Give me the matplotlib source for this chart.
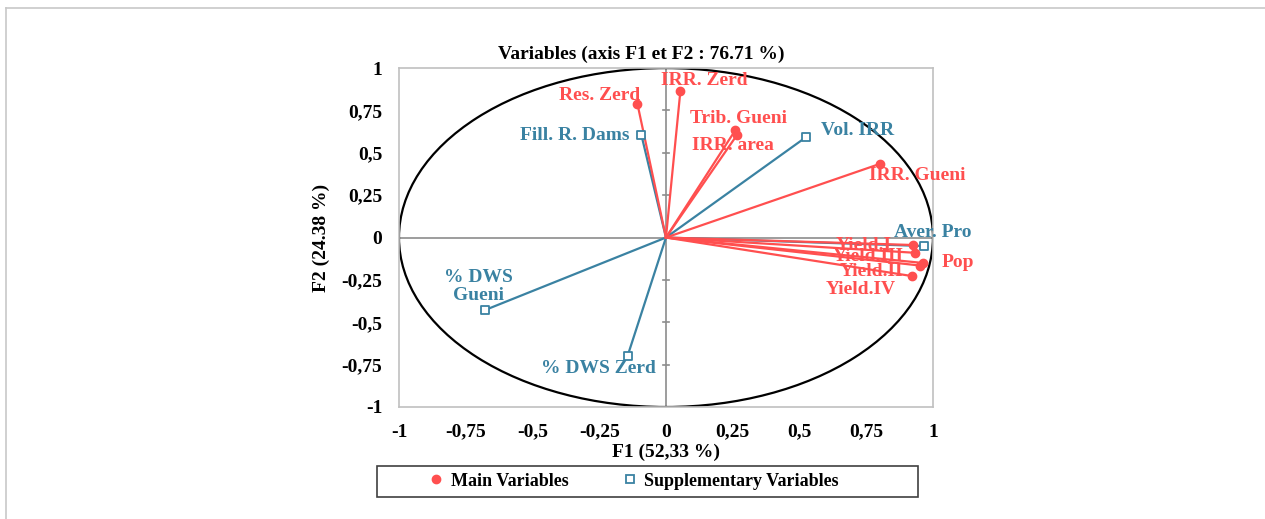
import numpy as np
import matplotlib
matplotlib.use("Agg")
import matplotlib.pyplot as plt
from matplotlib.patches import Ellipse, Rectangle
from matplotlib.lines import Line2D

plt.rcParams["font.family"] = ["Liberation Serif", "DejaVu Serif"]
plt.rcParams["font.weight"] = "bold"

RED = "#ff4f4f"
BLUE = "#3a82a2"
FS = 14

# ── Data (loadings) ───────────────────────────────────────────────────────────
main_names = ["Res. Zerd", "IRR. Zerd", "Trib. Gueni", "IRR. area", "IRR. Gueni",
              "Yield.I", "Yield.III", "Yield.II", "Pop", "Yield.IV"]
main_x = [-0.107, 0.054, 0.26, 0.266, 0.80, 0.925, 0.933, 0.95, 0.963, 0.92]
main_y = [0.79, 0.864, 0.634, 0.605, 0.434, -0.044, -0.09, -0.165, -0.15, -0.227]

supp_names = ["Fill. R. Dams", "Vol. IRR", "Aver. Pro", "% DWS\nGueni", "% DWS Zerd"]
supp_x = [-0.092, 0.525, 0.966, -0.678, -0.144]
supp_y = [0.605, 0.593, -0.05, -0.428, -0.70]

ticks = [-1, -0.75, -0.5, -0.25, 0, 0.25, 0.5, 0.75, 1]
tick_labels = ["-1", "-0,75", "-0,5", "-0,25", "0", "0,25", "0,5", "0,75", "1"]

# label offsets in data units (dx, dy, ha)
main_lab = {
    "Res. Zerd": (-0.14, 0.05, "center"),
    "IRR. Zerd": (0.09, 0.06, "center"),
    "Trib. Gueni": (-0.17, 0.07, "left"),
    "IRR. area": (-0.17, -0.06, "left"),
    "IRR. Gueni": (-0.04, -0.07, "left"),
    "Yield.I": (-0.29, 0.0, "left"),
    "Yield.III": (-0.31, -0.02, "left"),
    "Yield.II": (-0.3, -0.035, "left"),
    "Pop": (0.07, 0.0, "left"),
    "Yield.IV": (-0.32, -0.08, "left"),
}
supp_lab = {
    "Fill. R. Dams": (-0.045, 0.0, "right"),
    "Vol. IRR": (0.055, 0.04, "left"),
    "Aver. Pro": (-0.11, 0.08, "left"),
    "% DWS\nGueni": (-0.025, 0.14, "center"),
    "% DWS Zerd": (-0.11, -0.075, "center"),
}

fig = plt.figure(figsize=(12.65, 5.19), dpi=100)
# page frame: only the top and left edges are visible
fig.lines.append(Line2D([6 / 1265, 1.0], [1 - 8 / 519, 1 - 8 / 519],
                        transform=fig.transFigure, color="#c8c8c8", linewidth=1.2))
fig.lines.append(Line2D([6 / 1265, 6 / 1265], [0.0, 1 - 8 / 519],
                        transform=fig.transFigure, color="#c8c8c8", linewidth=1.2))

ax = fig.add_axes([0.3154, 0.2158, 0.4221, 0.653])
ax.set_xlim(-1, 1)
ax.set_ylim(-1, 1)

ax.axhline(0, color="#8c8c8c", linewidth=1.2, zorder=1)
ax.axvline(0, color="#8c8c8c", linewidth=1.2, zorder=1)
for t in ticks:
    if t != 0:
        ax.plot([-0.012, 0.012], [t, t], color="#8c8c8c", linewidth=1.2, zorder=1)

ax.add_patch(Ellipse((0, 0), 2, 2, fill=False, edgecolor="black", linewidth=1.6, zorder=2))

for x, y in zip(supp_x, supp_y):
    ax.plot([0, x], [0, y], color=BLUE, linewidth=1.6, zorder=3)
ax.scatter(supp_x, supp_y, marker="s", s=26, facecolor="white", edgecolor=BLUE,
           linewidth=1.3, zorder=5)

for x, y in zip(main_x, main_y):
    ax.plot([0, x], [0, y], color=RED, linewidth=1.6, zorder=4)
ax.scatter(main_x, main_y, marker="o", s=36, color=RED, zorder=6)

for name, x, y in zip(main_names, main_x, main_y):
    dx, dy, ha = main_lab[name]
    ax.text(x + dx, y + dy, name, color=RED, fontsize=FS, fontweight="bold",
            ha=ha, va="center", zorder=7)
for name, x, y in zip(supp_names, supp_x, supp_y):
    dx, dy, ha = supp_lab[name]
    ax.text(x + dx, y + dy, name, color=BLUE, fontsize=FS, fontweight="bold",
            ha=ha, va="center", zorder=7, linespacing=1.05)

ax.set_xticks(ticks)
ax.set_xticklabels(tick_labels)
ax.set_yticks(ticks)
ax.set_yticklabels(tick_labels)
ax.tick_params(length=0, labelsize=FS, pad=12)
for lab in ax.get_xticklabels() + ax.get_yticklabels():
    lab.set_fontweight("bold")
for s in ax.spines.values():
    s.set_color("#c0c0c0")
    s.set_linewidth(1.2)

ax.set_xlabel("F1 (52,33 %)", fontsize=FS, fontweight="bold", labelpad=2)
ax.set_ylabel("F2 (24.38 %)", fontsize=FS, fontweight="bold", labelpad=8)
fig.text(641 / 1265, 1 - 54 / 519, "Variables (axis F1 et F2 : 76.71 %)",
         fontsize=FS, fontweight="bold", ha="center", va="center")

# legend box drawn by hand so its padding matches
fig.patches.append(Rectangle((377 / 1265, 1 - 497 / 519), 541 / 1265, 31 / 519,
                             transform=fig.transFigure, fill=False,
                             edgecolor="#404040", linewidth=1.2))
handles = [
    Line2D([], [], marker="o", color=RED, linestyle="none", markersize=6,
           label="Main Variables"),
    Line2D([], [], marker="s", markerfacecolor="white", markeredgecolor=BLUE,
           markeredgewidth=1.3, linestyle="none", markersize=6,
           label="Supplementary Variables"),
]
fig.legend(handles=handles, loc="center", ncol=2,
           bbox_to_anchor=(634 / 1265, 1 - 481 / 519), frameon=False,
           prop={"weight": "bold", "size": 13}, handlelength=0.8,
           handletextpad=0.4, columnspacing=3.0)

plt.savefig("out.png", dpi=100)
plt.close()
